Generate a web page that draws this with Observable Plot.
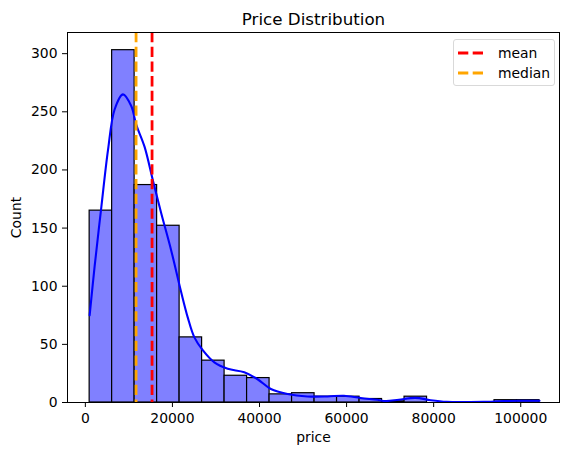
<!DOCTYPE html>
<html>
<head>
<meta charset="utf-8">
<script src="https://cdn.jsdelivr.net/npm/d3@7"></script>
<script src="https://cdn.jsdelivr.net/npm/@observablehq/plot@0.6"></script>
<style>
  html, body { margin: 0; padding: 0; background: #fff; }
  #wrap { position: relative; width: 571px; height: 455px; font-family: "DejaVu Sans", sans-serif; }
  #legend { position: absolute; left: 453px; top: 39px; width: 102px; height: 47px;
    border: 1px solid #d9d9d9; border-radius: 3px; background: rgba(255,255,255,0.8); box-sizing: border-box; }
  .entry { position: absolute; left: 0; height: 20px; display: flex; align-items: center; font-size: 13.9px; color: #000; }
  .entry svg { margin-left: 4px; margin-right: 12px; }
</style>
</head>
<body>
<div id="wrap"></div>
<script>
// Histogram data
const binEdges = [985, 6151, 11317, 16483, 21649, 26815, 31981, 37147, 42313, 47479, 52645,
                  57811, 62977, 68143, 73309, 78475, 83641, 88807, 93973, 99139, 104305];
const binCounts = [165, 303, 187, 152, 56, 36, 23, 21, 7, 8, 5, 5, 3, 1, 5, 0, 0, 0, 2, 2];

// KDE curve (in count units)
const kdePrice = [985, 2130, 3670, 5200, 6720, 8640, 10540, 11680, 13590, 15510, 17410, 19700,
                  22000, 23530, 25040, 26960, 29630, 32690, 36500, 39560, 42610, 46440, 51020,
                  55600, 59400, 63230, 67050, 69000, 72000, 75800, 79300, 83000, 87700, 91500,
                  96000, 100000, 104305];
const kdeCount = [75, 117, 168, 217, 252, 265, 255, 239, 220, 191, 163, 131,
                  95, 73, 56, 45, 34.5, 29, 26, 20, 11.6, 7.3, 5.2,
                  5.2, 5.8, 3.8, 2.3, 1.2, 2.4, 4.0, 2.0, 0.6, 0.4, 0.5,
                  1.2, 1.5, 1.5];

const meanPrice = 15320;
const medianPrice = 11650;

const xTicks = [0, 20000, 40000, 60000, 80000, 100000];
const yTicks = [0, 50, 100, 150, 200, 250, 300];
const titleText = "Price Distribution";
const legendLabels = ["mean", "median"];
const legendColors = ["red", "orange"];

const bins = binCounts.map((c, i) => ({x1: binEdges[i], x2: binEdges[i + 1], count: c}));
const kde = kdePrice.map((p, i) => ({price: p, count: kdeCount[i]}));

const chart = Plot.plot({
  width: 571,
  height: 455,
  marginLeft: 67,
  marginRight: 12,
  marginTop: 32,
  marginBottom: 53,
  style: {fontFamily: "DejaVu Sans, sans-serif", fontSize: "13.9px", color: "#000", background: "#fff"},
  x: {domain: [-4100, 108900]},
  y: {domain: [0, 318.2]},
  marks: [
    Plot.rectY(bins, {x1: "x1", x2: "x2", y: "count", fill: "#8080ff", stroke: "#000", strokeWidth: 1.2, insetLeft: 0, insetRight: 0}),
    Plot.line(kde, {x: "price", y: "count", stroke: "#0000ff", strokeWidth: 2.1, curve: "catmull-rom"}),
    Plot.ruleX([medianPrice], {stroke: "orange", strokeWidth: 2.78, strokeDasharray: "10.3,4.4"}),
    Plot.ruleX([meanPrice], {stroke: "red", strokeWidth: 2.78, strokeDasharray: "10.3,4.4"}),
    Plot.frame({stroke: "#000", strokeWidth: 1}),
    Plot.axisX({ticks: xTicks, tickFormat: d => String(d), tickSize: 5, tickPadding: 6, label: "price",
      labelAnchor: "center", labelArrow: "none", labelOffset: 39, fontSize: 13.9}),
    Plot.axisY({ticks: yTicks, tickSize: 5, tickPadding: 5, label: "Count",
      labelAnchor: "center", labelArrow: "none", labelOffset: 56, fontSize: 13.9}),
    Plot.text([titleText], {frameAnchor: "top", dy: -8, lineAnchor: "bottom", fontSize: 16.7, fill: "#000"})
  ]
});

const wrap = document.getElementById("wrap");
wrap.appendChild(chart);

const legend = document.createElement("div");
legend.id = "legend";
legendLabels.forEach((lab, i) => {
  const e = document.createElement("div");
  e.className = "entry";
  e.style.top = (3 + i * 20) + "px";
  e.innerHTML = `<svg width="28" height="6"><line x1="0" y1="3" x2="28" y2="3" stroke="${legendColors[i]}" stroke-width="2.78" stroke-dasharray="10.3,4.4"/></svg><span>${lab}</span>`;
  legend.appendChild(e);
});
wrap.appendChild(legend);
</script>
</body>
</html>
